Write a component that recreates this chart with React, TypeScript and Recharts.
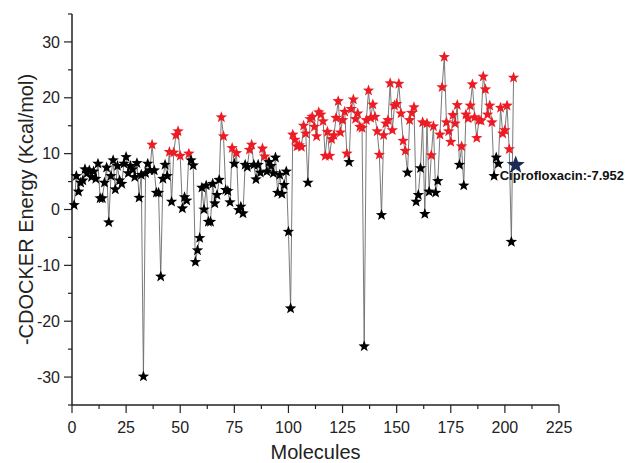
import React from 'react';
import { ScatterChart, Scatter, XAxis, YAxis } from 'recharts';

// -CDOCKER energies, molecules 1..204
const energies = [
  0.8, 6.0, 3.2, 4.8, 5.2, 7.2, 6.5, 7.0, 5.8, 6.8,
  5.5, 8.2, 2.0, 2.0, 4.8, 7.5, -2.3, 6.0, 8.8, 3.6,
  7.8, 5.2, 4.6, 8.2, 9.4, 6.5, 7.8, 7.2, 5.8, 8.3,
  2.1, 6.2, -29.9, 6.5, 8.2, 7.0, 11.6, 7.0, 3.0, 3.0,
  -12.0, 5.5, 8.0, 6.0, 10.3, 1.4, 10.2, 13.3, 14.0, 9.6,
  0.2, 2.2, 1.6, 10.0, 8.8, 7.9, -9.4, -7.3, -5.1, 3.9,
  0.0, 4.3, -2.2, -2.2, 4.6, 1.1, 2.6, 5.3, 16.5, 13.1,
  3.5, 3.3, 1.3, 11.0, 8.2, 10.1, -0.1, 0.5, -0.7, 8.0,
  7.6, 10.7, 11.6, 8.0, 5.4, 8.0, 6.6, 10.9, 9.5, 6.8,
  8.5, 7.8, 6.5, 9.3, 3.0, 6.2, 2.8, 4.4, 6.8, -4.0,
  -17.7, 13.4, 12.5, 11.3, 11.5, 11.2, 15.0, 13.6, 4.8, 16.2,
  16.6, 14.8, 13.1, 17.4, 17.0, 15.8, 9.6, 13.9, 9.6, 12.6,
  13.3, 16.4, 19.4, 13.8, 16.0, 17.5, 10.0, 8.5, 18.0, 19.7,
  16.2, 17.2, 14.8, 14.6, -24.5, 16.0, 21.3, 16.4, 18.8, 16.6,
  14.0, 9.8, -1.0, 13.3, 15.4, 16.0, 22.6, 14.2, 18.6, 18.9,
  22.5, 17.2, 12.3, 10.5, 6.6, 16.0, 17.3, 18.3, 1.4, 2.6,
  7.4, 15.6, -0.8, 15.4, 3.2, 9.7, 14.9, 3.0, 5.1, 13.4,
  21.9, 27.3, 15.6, 14.0, 12.1, 16.9, 15.4, 18.7, 8.0, 11.3,
  4.3, 17.0, 16.3, 18.6, 22.4, 16.5, 12.8, 16.0, 15.9, 23.8,
  21.5, 17.0, 18.6, 15.6, 6.0, 9.3, 8.2, 18.2, 13.6, 14.2,
  18.6, 10.8, -5.8, 23.6,
];

const reference = [{ molecule: 205, energy: 7.952, name: 'Ciprofloxacin' }];

const xTicks = [0, 12.5, 25, 37.5, 50, 62.5, 75, 87.5, 100, 112.5, 125, 137.5, 150, 162.5, 175, 187.5, 200, 212.5, 225];
const yTicks = [-35, -30, -25, -20, -15, -10, -5, 0, 5, 10, 15, 20, 25, 30, 35];

const font = '"Liberation Sans", Arial, sans-serif';

const points = energies.map((energy, i) => ({ molecule: i + 1, energy }));

const starPath = (cx: number, cy: number, r: number) => {
  const pts: string[] = [];
  for (let k = 0; k < 10; k++) {
    const rad = k % 2 === 0 ? r : r * 0.42;
    const a = -Math.PI / 2 + (k * Math.PI) / 5;
    pts.push(`${cx + rad * Math.cos(a)},${cy + rad * Math.sin(a)}`);
  }
  return pts.join(' ');
};

const StarDot = (props: any) => {
  const { cx, cy, payload } = props;
  if (cx == null || cy == null) return null;
  const fill = payload.energy >= 9.45 ? '#ec1c24' : '#000000';
  return <polygon points={starPath(cx, cy, 6)} fill={fill} />;
};

const CiproDot = (props: any) => {
  const { cx, cy, payload } = props;
  if (cx == null || cy == null) return null;
  return (
    <g>
      <polygon points={starPath(cx, cy, 9.5)} fill="#1c2a58" />
      <text
        x={cx - 16}
        y={cy + 15}
        fontFamily={font}
        fontSize={13}
        fontWeight="bold"
        fill="#111"
      >
        {`${payload.name}:-${payload.energy}`}
      </text>
    </g>
  );
};

const XTick = (props: any) => {
  const { x, y, payload } = props;
  const major = payload.value % 25 === 0;
  return (
    <g>
      <line x1={x} x2={x} y1={y} y2={y + (major ? 8 : 4)} stroke="#222" strokeWidth={1.2} />
      {major && (
        <text x={x} y={y + 28} textAnchor="middle" fontFamily={font} fontSize={16} fill="#222">
          {payload.value}
        </text>
      )}
    </g>
  );
};

const YTick = (props: any) => {
  const { x, y, payload } = props;
  const major = payload.value % 10 === 0 && Math.abs(payload.value) <= 30;
  return (
    <g>
      <line x1={x} x2={x - (major ? 8 : 4)} y1={y} y2={y} stroke="#222" strokeWidth={1.2} />
      {major && (
        <text x={x - 12} y={y} dy="0.35em" textAnchor="end" fontFamily={font} fontSize={16} fill="#222">
          {payload.value}
        </text>
      )}
    </g>
  );
};

export default function App() {
  return (
    <div style={{ position: 'absolute', left: 0, top: 0, width: 626, height: 463, background: '#fff' }}>
      <ScatterChart width={626} height={463} margin={{ top: 14, right: 67, bottom: 0, left: 0 }}>
        <XAxis
          type="number"
          dataKey="molecule"
          domain={[0, 225]}
          ticks={xTicks}
          interval={0}
          height={58}
          tickSize={0}
          tickMargin={0}
          tick={<XTick />}
          axisLine={{ stroke: '#222', strokeWidth: 1.5 }}
          label={{
            content: (p: any) => {
              const vb = p.viewBox;
              return (
                <text x={vb.x + vb.width / 2} y={vb.y + 54} textAnchor="middle" fontFamily={font} fontSize={20} fill="#222">
                  Molecules
                </text>
              );
            },
          }}
        />
        <YAxis
          type="number"
          dataKey="energy"
          domain={[-35, 35]}
          ticks={yTicks}
          interval={0}
          width={72}
          tickSize={0}
          tickMargin={0}
          tick={<YTick />}
          axisLine={{ stroke: '#222', strokeWidth: 1.5 }}
          label={{
            content: (p: any) => {
              const vb = p.viewBox;
              const cx = 26;
              const cy = vb.y + vb.height / 2;
              return (
                <text
                  x={cx}
                  y={cy}
                  dy="0.35em"
                  transform={`rotate(-90, ${cx}, ${cy})`}
                  textAnchor="middle"
                  fontFamily={font}
                  fontSize={20}
                  fill="#222"
                >
                  -CDOCKER Energy (Kcal/mol)
                </text>
              );
            },
          }}
        />
        <Scatter
          data={points}
          line={{ stroke: '#6a6a6a', strokeWidth: 0.9 }}
          shape={<StarDot />}
          isAnimationActive={false}
        />
        <Scatter data={reference} shape={<CiproDot />} isAnimationActive={false} />
      </ScatterChart>
    </div>
  );
}
